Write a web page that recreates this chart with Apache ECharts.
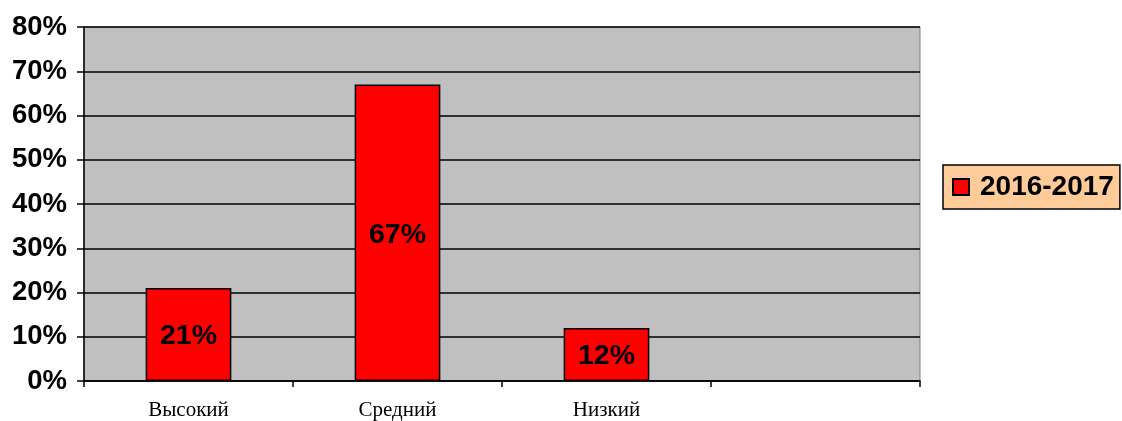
<!DOCTYPE html>
<html>
<head>
<meta charset="utf-8">
<script src="https://cdn.jsdelivr.net/npm/echarts@6/dist/echarts.min.js"></script>
<style>
html,body{margin:0;padding:0;background:#fff;}
#chart{width:1122px;height:421px;}
</style>
</head>
<body>
<div id="chart"></div>
<script>
const categories = ['Высокий', 'Средний', 'Низкий', ''];
const seriesName = '2016-2017';
const values = [21, 67, 12, null];
const yTicks = { min: 0, max: 80, interval: 10 };

const chart = echarts.init(document.getElementById('chart'), null, { renderer: 'canvas' });
chart.setOption({
  animation: false,
  backgroundColor: '#ffffff',
  grid: {
    left: 84, right: 202, top: 27, bottom: 40,
    containLabel: false, outerBoundsMode: 'none',
    show: true, backgroundColor: '#C0C0C0', borderColor: '#808080', borderWidth: 1
  },
  legend: {
    data: [seriesName],
    left: 943, top: 165,
    orient: 'vertical',
    backgroundColor: '#FFCC99',
    borderColor: '#000', borderWidth: 1.5,
    padding: [8, 6, 8, 9],
    itemWidth: 16, itemHeight: 16, itemGap: 8,
    icon: 'rect',
    textStyle: { fontFamily: 'Liberation Sans, Arial, sans-serif', fontWeight: 'bold', fontSize: 28, color: '#000', padding: [0, 0, 0, 6] }
  },
  xAxis: {
    type: 'category',
    data: categories,
    axisLine: { lineStyle: { color: '#000', width: 1.5 } },
    axisTick: { show: true, length: 6, alignWithLabel: false, lineStyle: { color: '#000', width: 1.5 } },
    axisLabel: { margin: 19, fontFamily: 'Liberation Serif, Times New Roman, serif', fontSize: 21, color: '#000' },
    splitLine: { show: false }
  },
  yAxis: {
    type: 'value',
    min: yTicks.min, max: yTicks.max, interval: yTicks.interval,
    axisLine: { show: true, lineStyle: { color: '#000', width: 1.5 } },
    axisTick: { show: true, length: 7, lineStyle: { color: '#000', width: 1.5 } },
    axisLabel: { margin: 17, formatter: '{value}%', fontFamily: 'Liberation Sans, Arial, sans-serif', fontWeight: 'bold', fontSize: 27.5, color: '#000' },
    splitLine: { show: true, lineStyle: { color: '#000', width: 1.5 } }
  },
  series: [{
    name: seriesName,
    type: 'bar',
    data: values,
    barWidth: '41%',
    itemStyle: { color: '#FF0000', borderColor: '#000', borderWidth: 1.5 },
    label: {
      show: true, position: 'inside', formatter: '{c}%', offset: [0, 2],
      fontFamily: 'Liberation Sans, Arial, sans-serif', fontWeight: 'bold', fontSize: 28.5, color: '#000'
    }
  }]
});
</script>
</body>
</html>
